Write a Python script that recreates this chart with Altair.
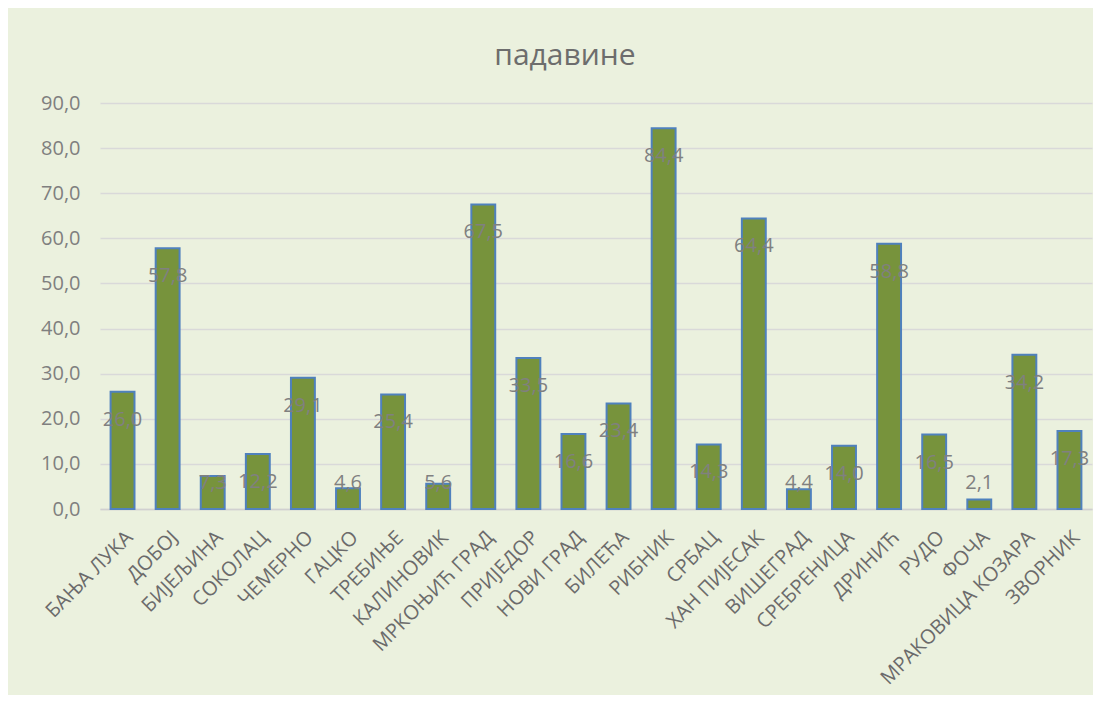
import altair as alt
import pandas as pd

stations = ["БАЊА ЛУКА", "ДОБОЈ", "БИЈЕЉИНА", "СОКОЛАЦ", "ЧЕМЕРНО", "ГАЦКО",
            "ТРЕБИЊЕ", "КАЛИНОВИК", "МРКОЊИЋ ГРАД", "ПРИЈЕДОР", "НОВИ ГРАД",
            "БИЛЕЋА", "РИБНИК", "СРБАЦ", "ХАН ПИЈЕСАК", "ВИШЕГРАД",
            "СРЕБРЕНИЦА", "ДРИНИЋ", "РУДО", "ФОЧА", "МРАКОВИЦА КОЗАРА", "ЗВОРНИК"]
values = [26.0, 57.8, 7.3, 12.2, 29.1, 4.6, 25.4, 5.6, 67.5, 33.5, 16.6,
          23.4, 84.4, 14.3, 64.4, 4.4, 14.0, 58.8, 16.5, 2.1, 34.2, 17.3]
y_ticks = [0, 10, 20, 30, 40, 50, 60, 70, 80, 90]

df = pd.DataFrame({"station": stations, "value": values})

FONT = "Open Sans"
fmt = "replace(format(datum.value, '.1f'), '.', ',')"

x_enc = alt.X("station:N", sort=stations,
              scale=alt.Scale(paddingInner=0.47, paddingOuter=0.235),
              axis=alt.Axis(title=None, labelAngle=-45, labelFontSize=20,
                            labelFont=FONT, labelColor="#6b6b6b", ticks=False,
                            domainColor="#d0d0d0", domainWidth=1.5,
                            labelPadding=18, labelOverlap=False,
                            labelLimit=0))

bars = alt.Chart(df).mark_bar(color="#77933C", stroke="#4F81BD",
                              strokeWidth=2).encode(
    x=x_enc,
    y=alt.Y("value:Q", scale=alt.Scale(domain=[0, 90], nice=False),
            axis=alt.Axis(title=None, values=y_ticks, labelExpr=fmt,
                          labelFontSize=20, labelFont=FONT,
                          labelColor="#7f7f7f", ticks=False, domain=False,
                          gridColor="#d9d9d9", gridWidth=1.5,
                          labelPadding=20)),
)

labels = alt.Chart(df).transform_calculate(
    ly="max(datum.value - 6.2, 5.8)",
    lbl=fmt,
).mark_text(font=FONT, fontSize=20, color="#808080", baseline="middle",
            align="center").encode(
    x=alt.X("station:N", sort=stations),
    y=alt.Y("ly:Q"),
    text="lbl:N",
)

chart = alt.layer(bars, labels).properties(
    width=992, height=406,
    background="#EBF1DE",
    padding={"left": 92, "top": 95, "right": 1, "bottom": 186},
    autosize=alt.AutoSizeParams(type="none"),
    title=alt.TitleParams("падавине", font=FONT, fontSize=30,
                          fontWeight="normal", color="#6d6d6d",
                          anchor="middle", dx=-31, offset=22),
).configure_view(stroke=None)

chart.save("out.html", embed_options={"renderer": "svg", "actions": False})
